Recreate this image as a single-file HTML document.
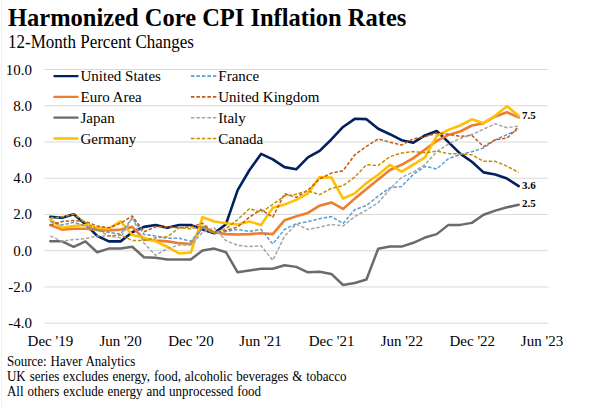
<!DOCTYPE html>
<html><head><meta charset="utf-8"><style>
html,body{margin:0;padding:0;background:#fff;}
body{width:613px;height:407px;overflow:hidden;position:relative;}
svg{position:absolute;left:0;top:0;}
</style></head><body>
<svg width="613" height="407" viewBox="0 0 613 407">
<rect width="613" height="407" fill="#fff"/>
<line x1="1.5" y1="0" x2="1.5" y2="407" stroke="#F0F0F0" stroke-width="1"/>
<g font-family="Liberation Serif" fill="#000">
<text x="8" y="26.4" font-weight="bold" font-size="24.5">Harmonized Core CPI Inflation Rates</text>
<text x="8" y="0" transform="translate(0,47.80) scale(1,1.05)" font-size="17">12-Month Percent Changes</text>

</g>
<line x1="44.5" y1="69.50" x2="548.3" y2="69.50" stroke="#D9D9D9" stroke-width="1"/>
<line x1="44.5" y1="105.74" x2="548.3" y2="105.74" stroke="#D9D9D9" stroke-width="1"/>
<line x1="44.5" y1="141.99" x2="548.3" y2="141.99" stroke="#D9D9D9" stroke-width="1"/>
<line x1="44.5" y1="178.23" x2="548.3" y2="178.23" stroke="#D9D9D9" stroke-width="1"/>
<line x1="44.5" y1="214.47" x2="548.3" y2="214.47" stroke="#D9D9D9" stroke-width="1"/>
<line x1="44.5" y1="250.71" x2="548.3" y2="250.71" stroke="#D9D9D9" stroke-width="1"/>
<line x1="44.5" y1="286.96" x2="548.3" y2="286.96" stroke="#D9D9D9" stroke-width="1"/>
<line x1="44.5" y1="323.20" x2="548.3" y2="323.20" stroke="#D9D9D9" stroke-width="1"/>

<g font-family="Liberation Serif" font-size="15" fill="#000">
<text x="32" y="0" transform="translate(0,74.50) scale(1,1.04)" text-anchor="end">10.0</text>
<text x="32" y="0" transform="translate(0,110.74) scale(1,1.04)" text-anchor="end">8.0</text>
<text x="32" y="0" transform="translate(0,146.99) scale(1,1.04)" text-anchor="end">6.0</text>
<text x="32" y="0" transform="translate(0,183.23) scale(1,1.04)" text-anchor="end">4.0</text>
<text x="32" y="0" transform="translate(0,219.47) scale(1,1.04)" text-anchor="end">2.0</text>
<text x="32" y="0" transform="translate(0,255.71) scale(1,1.04)" text-anchor="end">0.0</text>
<text x="32" y="0" transform="translate(0,291.96) scale(1,1.04)" text-anchor="end">-2.0</text>
<text x="32" y="0" transform="translate(0,328.20) scale(1,1.04)" text-anchor="end">-4.0</text>
<text x="50.4" y="0" transform="translate(0,346.20) scale(1,1.04)" text-anchor="middle">Dec '19</text>
<text x="120.6" y="0" transform="translate(0,346.20) scale(1,1.04)" text-anchor="middle">Jun '20</text>
<text x="191" y="0" transform="translate(0,346.20) scale(1,1.04)" text-anchor="middle">Dec '20</text>
<text x="260.5" y="0" transform="translate(0,346.20) scale(1,1.04)" text-anchor="middle">Jun '21</text>
<text x="331.6" y="0" transform="translate(0,346.20) scale(1,1.04)" text-anchor="middle">Dec '21</text>
<text x="401.9" y="0" transform="translate(0,346.20) scale(1,1.04)" text-anchor="middle">Jun '22</text>
<text x="472.3" y="0" transform="translate(0,346.20) scale(1,1.04)" text-anchor="middle">Dec '22</text>
<text x="542" y="0" transform="translate(0,346.20) scale(1,1.04)" text-anchor="middle">Jun '23</text>
</g>
<polyline points="50.30,216.91 62.01,217.82 73.72,214.20 85.43,224.16 97.14,235.92 108.85,241.35 120.56,241.35 132.27,232.30 143.98,226.87 155.69,225.06 167.40,227.78 179.11,225.06 190.82,225.06 202.53,229.59 214.24,233.21 225.95,224.16 237.66,190.13 249.37,170.22 261.08,153.93 272.79,159.36 284.50,167.14 296.21,169.31 307.92,157.37 319.63,150.85 331.34,139.45 343.05,126.96 354.76,118.81 366.47,119.17 378.18,128.77 389.89,134.20 401.60,140.17 413.31,142.70 425.02,135.47 436.73,130.94 448.44,142.16 460.15,153.56 471.86,161.71 483.57,172.39 495.28,174.56 506.99,178.54 518.70,186.15" fill="none" stroke="#002060" stroke-width="2.6" stroke-linejoin="round" stroke-linecap="round"/>
<polyline points="50.30,225.06 62.01,229.59 73.72,228.68 85.43,228.68 97.14,229.59 108.85,230.49 120.56,229.59 132.27,226.87 143.98,239.18 155.69,240.63 167.40,241.35 179.11,243.16 190.82,244.06 202.53,226.87 214.24,232.30 225.95,234.11 237.66,234.47 249.37,234.11 261.08,233.21 272.79,234.11 284.50,220.35 296.21,216.37 307.92,212.93 319.63,205.69 331.34,202.44 343.05,208.95 354.76,198.63 366.47,189.04 378.18,179.45 389.89,170.04 401.60,164.79 413.31,158.09 425.02,149.58 436.73,140.89 448.44,134.92 460.15,131.48 471.86,125.51 483.57,123.16 495.28,116.46 506.99,112.30 518.70,117.37" fill="none" stroke="#ED7D31" stroke-width="2.6" stroke-linejoin="round" stroke-linecap="round"/>
<polyline points="50.30,241.35 62.01,241.35 73.72,246.78 85.43,241.35 97.14,252.21 108.85,248.59 120.56,248.59 132.27,246.78 143.98,257.28 155.69,257.64 167.40,259.45 179.11,259.45 190.82,259.45 202.53,250.40 214.24,248.59 225.95,252.21 237.66,272.30 249.37,270.49 261.08,268.68 272.79,268.68 284.50,265.24 296.21,266.87 307.92,272.30 319.63,271.76 331.34,273.93 343.05,284.97 354.76,282.98 366.47,279.54 378.18,248.77 389.89,246.60 401.60,246.60 413.31,242.80 425.02,237.55 436.73,234.11 448.44,224.88 460.15,224.88 471.86,222.89 483.57,214.74 495.28,210.58 506.99,207.32 518.70,204.79" fill="none" stroke="#6E6A6A" stroke-width="2.5" stroke-linejoin="round" stroke-linecap="round"/>
<polyline points="50.30,219.63 62.01,227.78 73.72,225.97 85.43,225.06 97.14,227.78 108.85,228.68 120.56,221.44 132.27,235.02 143.98,237.73 155.69,241.35 167.40,246.78 179.11,253.48 190.82,252.57 202.53,217.28 214.24,221.44 225.95,223.25 237.66,224.52 249.37,221.44 261.08,225.06 272.79,207.87 284.50,204.61 296.21,199.90 307.92,193.38 319.63,177.09 331.34,177.46 343.05,198.63 354.76,193.38 366.47,183.07 378.18,174.74 389.89,164.97 401.60,171.67 413.31,164.61 425.02,157.37 436.73,136.01 448.44,129.85 460.15,125.51 471.86,119.36 483.57,123.16 495.28,115.55 506.99,106.14 518.70,115.92" fill="none" stroke="#FFC000" stroke-width="2.6" stroke-linejoin="round" stroke-linecap="round"/>
<polyline points="50.30,221.44 62.01,225.06 73.72,222.34 85.43,225.97 97.14,230.49 108.85,232.30 120.56,234.11 132.27,217.82 143.98,234.47 155.69,235.92 167.40,238.27 179.11,238.27 190.82,241.35 202.53,227.78 214.24,233.75 225.95,231.40 237.66,229.40 249.37,231.40 261.08,229.40 272.79,244.06 284.50,229.40 296.21,223.79 307.92,221.62 319.63,218.72 331.34,216.55 343.05,223.43 354.76,209.68 366.47,205.51 378.18,196.10 389.89,187.77 401.60,186.51 413.31,174.38 425.02,166.42 436.73,168.95 448.44,158.63 460.15,154.47 471.86,151.75 483.57,147.95 495.28,139.99 506.99,134.56 518.70,129.49" fill="none" stroke="#5B9BD5" stroke-width="1.5" stroke-linejoin="round" stroke-dasharray="3.5 1.8"/>
<polyline points="50.30,225.06 62.01,221.44 73.72,220.53 85.43,221.44 97.14,225.97 108.85,227.78 120.56,223.25 132.27,216.01 143.98,231.76 155.69,226.87 167.40,226.87 179.11,227.78 190.82,226.87 202.53,223.25 214.24,233.21 225.95,230.49 237.66,226.87 249.37,217.28 261.08,209.49 272.79,217.28 284.50,193.75 296.21,197.37 307.92,190.13 319.63,178.91 331.34,173.11 343.05,170.76 354.76,154.83 366.47,146.32 378.18,138.90 389.89,142.16 401.60,145.06 413.31,138.90 425.02,136.73 436.73,133.29 448.44,134.20 460.15,136.37 471.86,135.28 483.57,146.69 495.28,139.63 506.99,138.18 518.70,126.78" fill="none" stroke="#C55A11" stroke-width="1.5" stroke-linejoin="round" stroke-dasharray="3.5 1.8"/>
<polyline points="50.30,235.92 62.01,241.35 73.72,239.54 85.43,238.63 97.14,235.92 108.85,235.92 120.56,237.73 132.27,217.82 143.98,243.16 155.69,255.29 167.40,248.41 179.11,244.97 190.82,244.97 202.53,232.30 214.24,227.78 225.95,240.63 237.66,245.33 249.37,246.60 261.08,245.69 272.79,260.36 284.50,236.28 296.21,224.16 307.92,229.40 319.63,227.23 331.34,224.34 343.05,225.97 354.76,216.55 366.47,210.04 378.18,202.80 389.89,189.04 401.60,177.46 413.31,172.03 425.02,164.61 436.73,151.75 448.44,143.97 460.15,138.54 471.86,134.56 483.57,129.13 495.28,123.88 506.99,127.68 518.70,126.05" fill="none" stroke="#A5A5A5" stroke-width="1.5" stroke-linejoin="round" stroke-dasharray="3.5 1.8"/>
<polyline points="50.30,217.82 62.01,216.91 73.72,214.20 85.43,222.34 97.14,229.59 108.85,235.92 120.56,235.02 132.27,240.44 143.98,240.44 155.69,237.73 167.40,236.83 179.11,227.78 190.82,228.68 202.53,225.97 214.24,232.84 225.95,228.68 237.66,219.63 249.37,208.77 261.08,212.21 272.79,204.43 284.50,196.10 296.21,194.29 307.92,190.85 319.63,194.65 331.34,188.32 343.05,185.60 354.76,177.09 366.47,164.79 378.18,165.51 389.89,156.64 401.60,153.02 413.31,151.57 425.02,152.66 436.73,151.21 448.44,153.56 460.15,153.93 471.86,154.83 483.57,161.35 495.28,161.35 506.99,166.24 518.70,172.39" fill="none" stroke="#BF9000" stroke-width="1.5" stroke-linejoin="round" stroke-dasharray="3.5 1.8"/>

<line x1="54.4" y1="76.10" x2="77.6" y2="76.10" stroke="#002060" stroke-width="2.3" stroke-linecap="round"/>
<line x1="54.4" y1="96.90" x2="77.6" y2="96.90" stroke="#ED7D31" stroke-width="2.3" stroke-linecap="round"/>
<line x1="54.4" y1="117.70" x2="77.6" y2="117.70" stroke="#6E6A6A" stroke-width="2.3" stroke-linecap="round"/>
<line x1="54.4" y1="138.50" x2="77.6" y2="138.50" stroke="#FFC000" stroke-width="2.3" stroke-linecap="round"/>
<line x1="190.9" y1="76.10" x2="216.3" y2="76.10" stroke="#5B9BD5" stroke-width="1.6" stroke-dasharray="3.5 2"/>
<line x1="190.9" y1="96.90" x2="216.3" y2="96.90" stroke="#C55A11" stroke-width="1.6" stroke-dasharray="3.5 2"/>
<line x1="190.9" y1="117.70" x2="216.3" y2="117.70" stroke="#A5A5A5" stroke-width="1.6" stroke-dasharray="3.5 2"/>
<line x1="190.9" y1="138.50" x2="216.3" y2="138.50" stroke="#BF9000" stroke-width="1.6" stroke-dasharray="3.5 2"/>

<g font-family="Liberation Serif" font-size="15" fill="#000">
<text x="80.5" y="0" transform="translate(0,81.20) scale(1,1.04)">United States</text>
<text x="80.5" y="0" transform="translate(0,102.00) scale(1,1.04)">Euro Area</text>
<text x="80.5" y="0" transform="translate(0,122.80) scale(1,1.04)">Japan</text>
<text x="80.5" y="0" transform="translate(0,143.60) scale(1,1.04)">Germany</text>
<text x="218.3" y="0" transform="translate(0,81.20) scale(1,1.04)">France</text>
<text x="218.3" y="0" transform="translate(0,102.00) scale(1,1.04)">United Kingdom</text>
<text x="218.3" y="0" transform="translate(0,122.80) scale(1,1.04)">Italy</text>
<text x="218.3" y="0" transform="translate(0,143.60) scale(1,1.04)">Canada</text>
</g>
<g font-family="Liberation Serif" font-size="11" font-weight="bold" fill="#000">
<text x="522" y="118.5">7.5</text>
<text x="522" y="188.8">3.6</text>
<text x="522" y="207.4">2.5</text>
</g>
<g font-family="Liberation Serif" font-size="13" fill="#000" word-spacing="0.65">
<text x="7" y="0" transform="translate(0,366.00) scale(1,1.07)">Source: Haver Analytics</text>
<text x="7" y="0" transform="translate(0,381.00) scale(1,1.07)">UK series excludes energy, food, alcoholic beverages &amp; tobacco</text>
<text x="7" y="0" transform="translate(0,395.70) scale(1,1.07)">All others exclude energy and unprocessed food</text>
</g>
</svg>
</body></html>
